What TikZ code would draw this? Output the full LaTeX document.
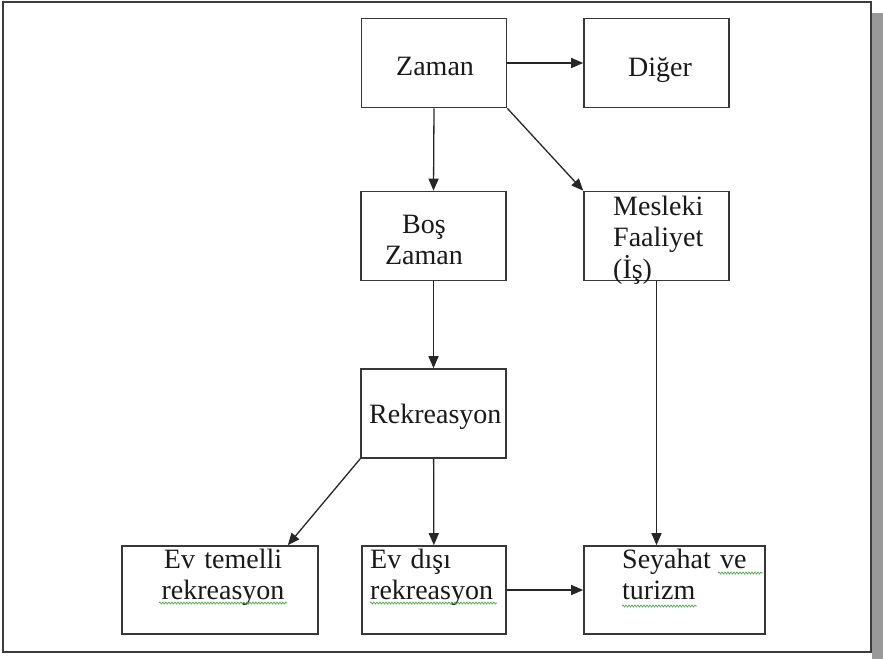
\documentclass[tikz,border=0pt]{standalone}
\usepackage{fontspec}
\setmainfont{Liberation Serif}
\usetikzlibrary{arrows.meta, decorations.pathmorphing}
\definecolor{cerceve}{RGB}{60, 60, 60}
\definecolor{golge}{RGB}{153, 153, 153}
\definecolor{kenar}{RGB}{55, 55, 55}
\definecolor{dalga}{RGB}{80, 170, 80}

\begin{document}
\begin{tikzpicture}[
                x=1pt, y=-1pt,
                kutu/.style={draw=kenar, line width=1.6pt, minimum width=145pt, minimum height=89pt, inner sep=0pt},
                yazi/.style={font=\fontsize{28}{31.5}\selectfont, text=black!90, inner sep=0pt, anchor=base west},
                ok/.style={draw=black!85, line width=1.3pt, -{Triangle[length=12pt, width=10pt]}},
                imla/.style={draw=dalga, line width=0.7pt, decorate, decoration={snake, amplitude=1pt, segment length=3pt}}
            ]
                \useasboundingbox (0, 0) rectangle (883, 659);

                % Çerçeve ve gölge
                \fill[golge] (872, 13) rectangle (883, 659);
                \draw[cerceve, line width=2pt] (3, 2) rectangle (871, 652);

                % Kutular
                \node[kutu] (zaman) at (434, 63) {};
                \node[kutu] (diger) at (656.5, 63) {};
                \node[kutu] (boszaman) at (433.5, 236) {};
                \node[kutu] (mesleki) at (656.5, 236) {};
                \node[kutu] (rekreasyon) at (433.5, 413.5) {};
                \node[kutu, minimum width=196pt, minimum height=88pt] (evtemelli) at (220, 590) {};
                \node[kutu, minimum width=144pt, minimum height=88pt] (evdisi) at (434, 590) {};
                \node[kutu, minimum width=181pt, minimum height=88pt] (seyahat) at (674.5, 590) {};

                % Yazılar
                \node[yazi] (zamanyazi) at (396, 75) {Zaman};
                \node[yazi] (digeryazi) at (628, 76) {Diğer};
                \node[yazi, anchor=base, align=center, text width=120pt] (bosyazi) at (424, 233) {Boş\\Zaman};
                \node[yazi, align=left, text width=120pt] (meslekiyazi) at (613, 215) {Mesleki\\Faaliyet\\(İş)};
                \node[yazi] (rekyazi) at (369, 423) {Rekreasyon};
                \node[yazi, anchor=base, align=center, text width=150pt] (evtemelliyazi) at (223, 568) {Ev temelli\\rekreasyon};
                \node[yazi, align=left, text width=140pt] (evdisiyazi) at (370, 568) {Ev dışı\\rekreasyon};
                \node[yazi, align=left, text width=150pt] (seyahatyazi) at (622, 568) {Seyahat ve\\turizm};

                % Oklar
                \draw[ok] (zaman) -- (diger);
                \draw[ok] (zaman.south) -- (boszaman.north);
                \draw[ok] (zaman.south east) -- (mesleki.north west);
                \draw[ok] (boszaman) -- (rekreasyon);
                \draw[ok] (mesleki.south) -- (mesleki.south |- seyahat.north);
                \draw[ok] (rekreasyon) -- (evdisi);
                \draw[ok] (rekreasyon.south west) -- ([xshift=-31pt]evtemelli.north east);
                \draw[ok] (evdisi) -- (seyahat);

                % Yazım denetimi çizgileri
                \draw[imla] (159, 603) -- (287, 603);
                \draw[imla] (370, 603) -- (497, 603);
                \draw[imla] (718, 573) -- (763, 573);
                \draw[imla] (622, 606) -- (697, 606);
            \end{tikzpicture}
\end{document}
